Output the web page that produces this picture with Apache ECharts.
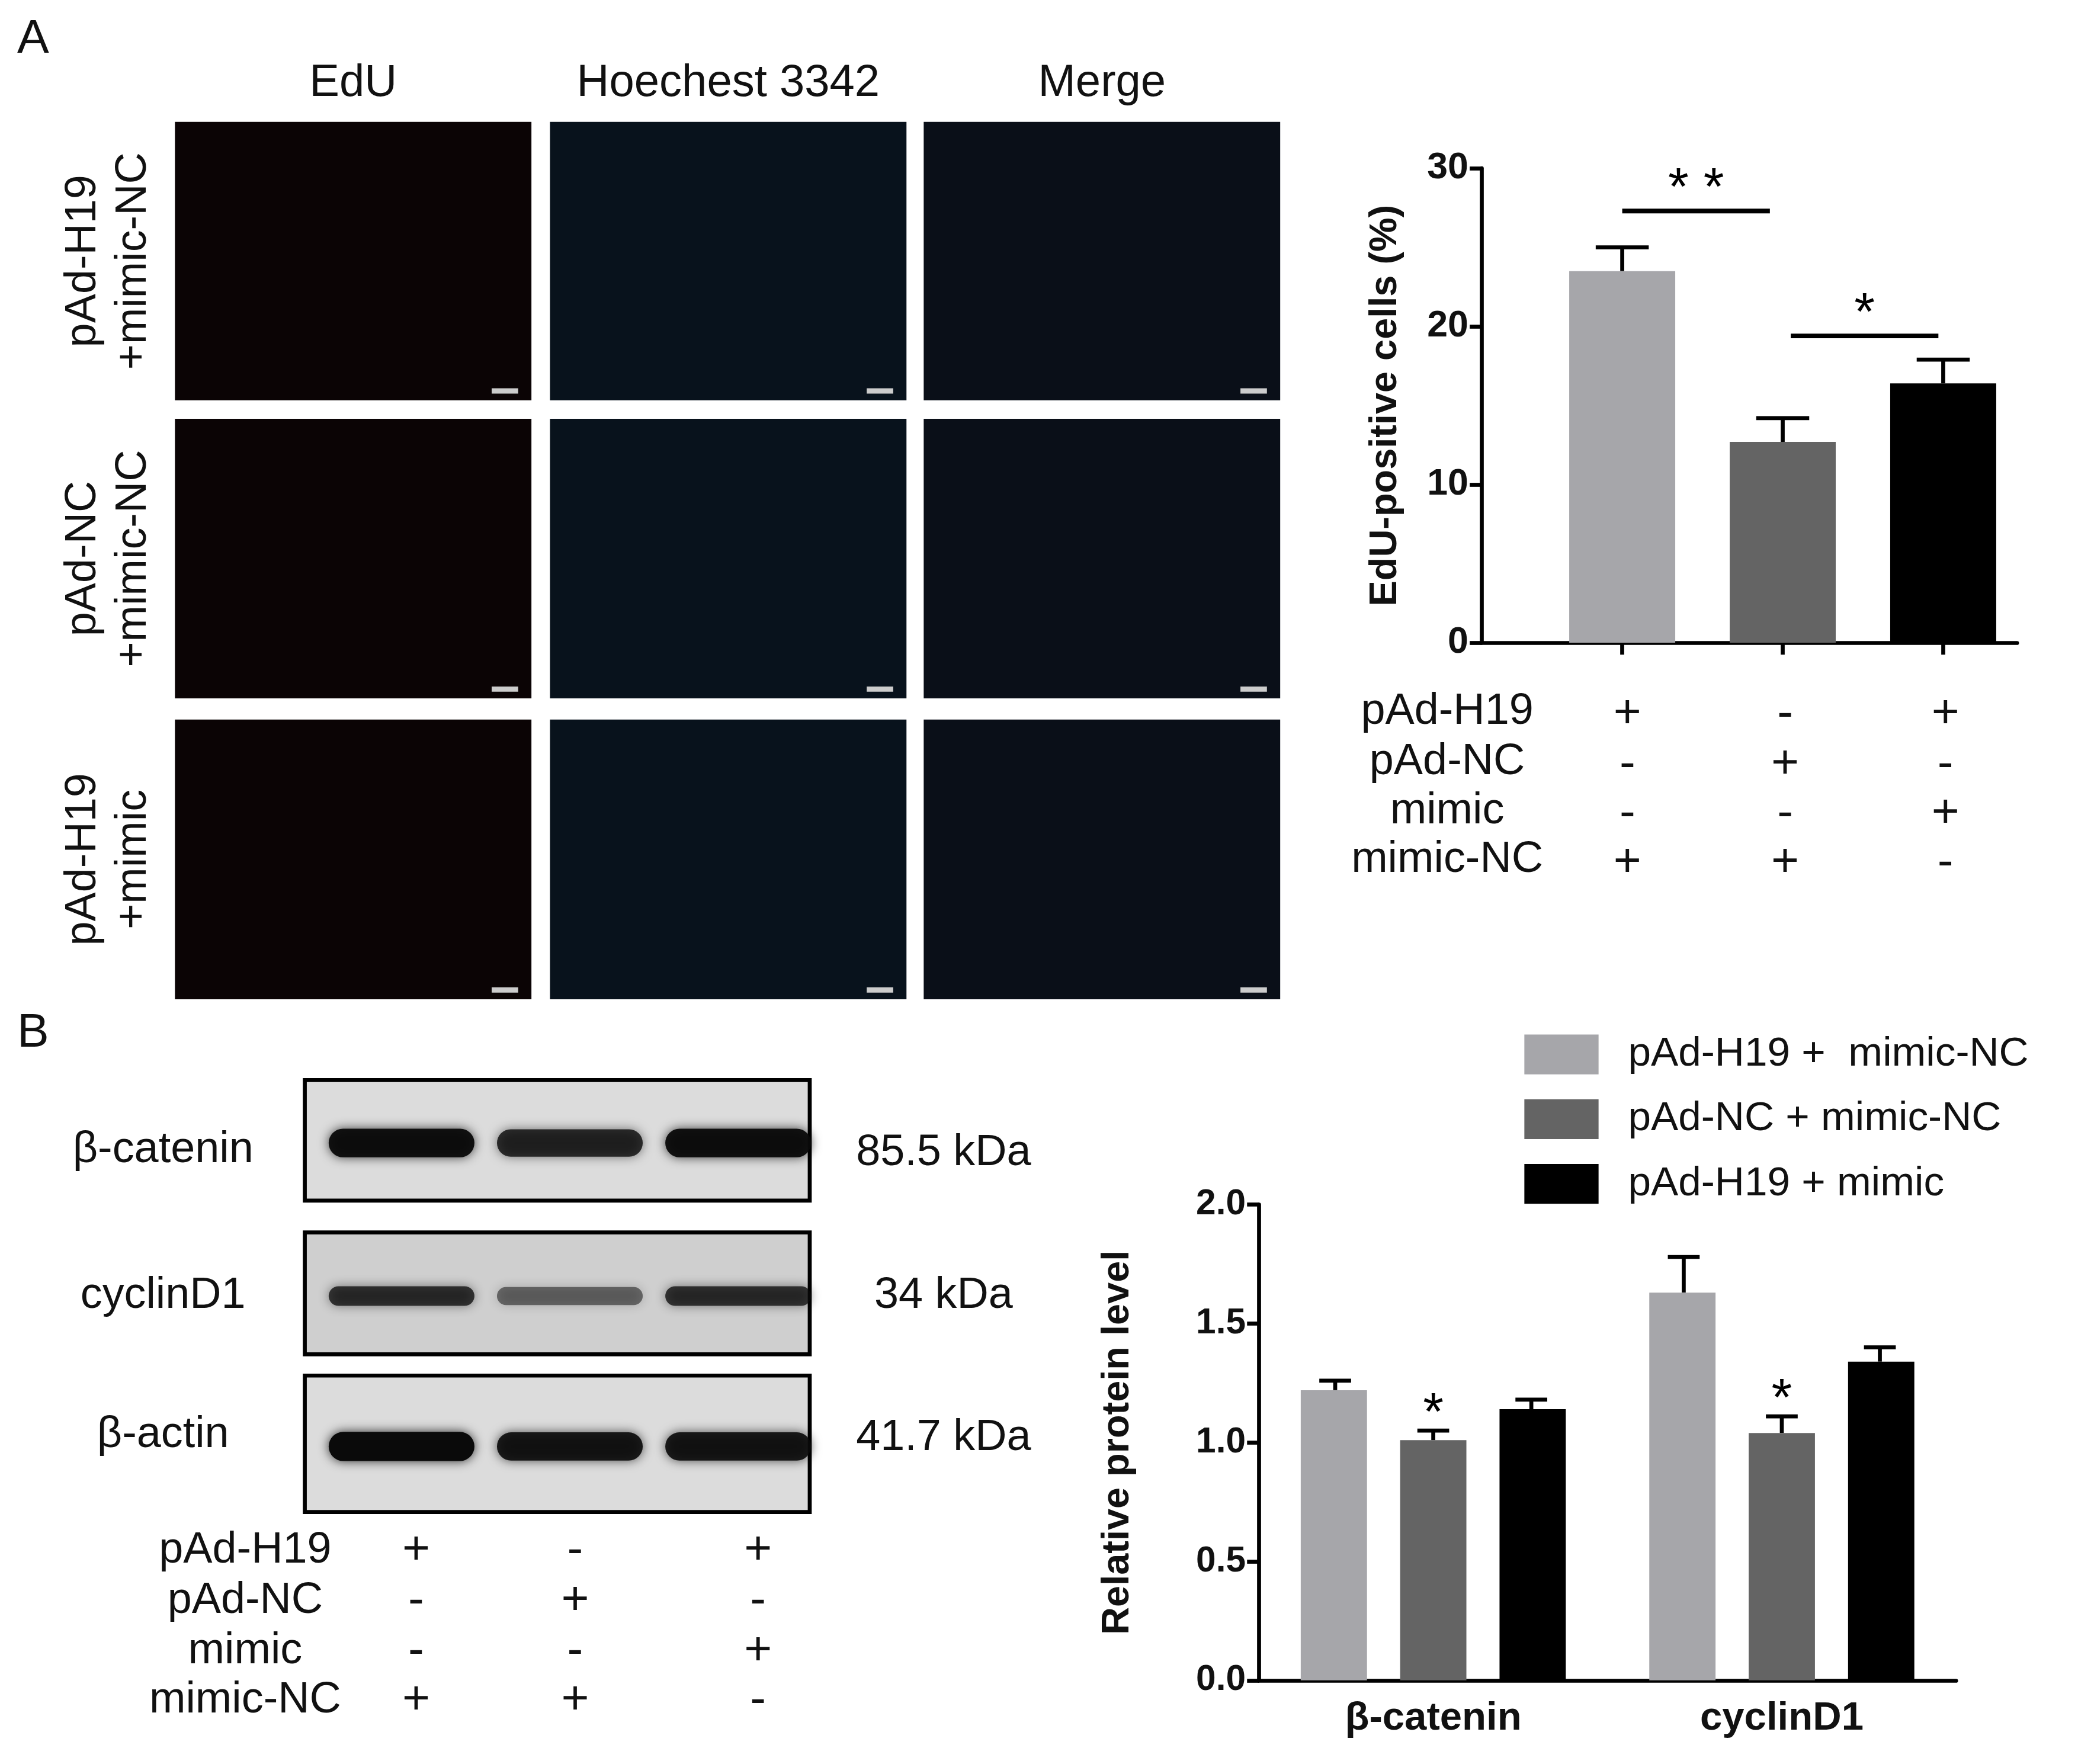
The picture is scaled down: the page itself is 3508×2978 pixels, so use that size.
<!DOCTYPE html>
<html><head><meta charset="utf-8">
<script src="https://cdn.jsdelivr.net/npm/echarts@6/dist/echarts.min.js"></script>
<style>html,body{margin:0;padding:0;background:#fff}#c{width:3508px;height:2978px}</style>
</head><body><div id="c"></div>
<script>
const S = 3508/1568;
const s = v => v*S;
const FONT = 'Liberation Sans, Arial, sans-serif';

// ---- data ----
const edu_groups = ['pAd-H19 +mimic-NC','pAd-NC +mimic-NC','pAd-H19 +mimic'];
const edu_values = [23.5, 12.7, 16.4];
const edu_errors = [25.0, 14.2, 17.9];
const edu_colors = ['#a6a6aa','#646464','#000000'];
const edu_sig = [[0, 0.92, 27.3, '* *'], [1.05, 1.97, 19.4, '*']];
const table_rows = ['pAd-H19','pAd-NC','mimic','mimic-NC'];
const table_signs = [['+','-','+'],['-','+','-'],['-','-','+'],['+','+','-']];

const prot_categories = ['β-catenin','cyclinD1'];
const prot_series = ['pAd-H19 +  mimic-NC','pAd-NC + mimic-NC','pAd-H19 + mimic'];
const prot_values = [[1.22,1.63],[1.01,1.04],[1.14,1.34]];
const prot_errors = [[1.26,1.78],[1.05,1.11],[1.18,1.40]];
const prot_star = [['',''],['*','*'],['','']];
const blot_labels = ['β-catenin','cyclinD1','β-actin'];
const blot_kda = ['85.5 kDa','34 kDa','41.7 kDa'];
const blot_intensity = [[0.95,0.8,0.95],[0.75,0.5,0.75],[1,0.9,0.9]];

const panel_titles = ['EdU','Hoechest 3342','Merge'];
const row_labels = ['pAd-H19\n+mimic-NC','pAd-NC\n+mimic-NC','pAd-H19\n+mimic'];

// ---- graphics ----
const g = [];
const txt = (x,y,t,o={}) => g.push({type:'text',x:s(x),y:s(y),rotation:o.rot||0,z:10,
  style:{text:t,font:`${o.bold?'bold ':''}${s(o.size||30)}px ${FONT}`,fill:'#111',
  textAlign:o.align||'center',textVerticalAlign:'middle',lineHeight:s(o.lh||(o.size||30)*1.1)}});
txt(25,30,'A',{size:36}); txt(25,780,'B',{size:36});
const colX=[132,415,697], colW=[269,269,269], rowY=[92,316,543], rowH=[210,211,211];
panel_titles.forEach((t,i)=>txt(colX[i]+colW[i]/2,63,t,{size:34}));
row_labels.forEach((t,i)=>txt(82,rowY[i]+rowH[i]/2,t,{size:33,rot:Math.PI/2,lh:38}));
const pcol=['#0b0405','#08121c','#0a0f18'];
for(let r=0;r<3;r++)for(let c=0;c<3;c++){
  g.push({type:'rect',shape:{x:s(colX[c]),y:s(rowY[r]),width:s(colW[c]),height:s(rowH[r])},style:{fill:pcol[c]}});
  g.push({type:'rect',shape:{x:s(colX[c]+colW[c]-30),y:s(rowY[r]+rowH[r]-9),width:s(20),height:s(4)},style:{fill:'#ccc'}});
}
const boxY=[815,930,1038], boxH=[91,92,103], lanes=[303,430,557];
blot_labels.forEach((l,i)=>{
  g.push({type:'rect',shape:{x:s(230),y:s(boxY[i]),width:s(381),height:s(boxH[i])},style:{fill:i==1?'#cfcfcf':'#dcdcdc',stroke:'#000',lineWidth:s(3)}});
  lanes.forEach((x,j)=>{
    const a=blot_intensity[i][j], h=(i==1?16:22)*(0.7+0.3*a), w=110;
    g.push({type:'rect',z:5,shape:{x:s(x-w/2),y:s(boxY[i]+boxH[i]/2+2-h/2),width:s(w),height:s(h),r:s(h/2)},
      style:{fill:`rgba(10,10,10,${a})`,shadowBlur:s(8),shadowColor:`rgba(0,0,0,${a*0.8})`}});
  });
  txt(123,[868,978,1083][i],l,{size:33});
  txt(712,[870,978,1085][i],blot_kda[i],{size:33});
});
table_rows.forEach((l,i)=>{
  txt(1092,[537,575,612,649][i],l,{size:33});
  txt(185,[1170,1208,1246,1283][i],l,{size:33});
  table_signs[i].forEach((sg,j)=>{
    txt([1228,1347,1468][j],[539,577,614,651][i],sg,{size:36});
    txt([314,434,572][j],[1170,1208,1246,1283][i],sg,{size:36});
  });
});

const series=[];
series.push({type:'bar',xAxisIndex:0,yAxisIndex:0,barWidth:s(80),silent:true,
  data:edu_values.map((v,i)=>({value:[i,v],itemStyle:{color:edu_colors[i]}}))});
series.push({type:'custom',xAxisIndex:0,yAxisIndex:0,silent:true,z:1,
  data:edu_values.map((v,i)=>[i,v,edu_errors[i]]),
  renderItem:(p,api)=>{const t=api.coord([api.value(0),api.value(2)]),b=api.coord([api.value(0),api.value(1)]);
    return {type:'group',children:[
      {type:'line',shape:{x1:t[0],y1:b[1],x2:t[0],y2:t[1]},style:{stroke:'#000',lineWidth:s(3)}},
      {type:'line',shape:{x1:t[0]-s(20),y1:t[1],x2:t[0]+s(20),y2:t[1]},style:{stroke:'#000',lineWidth:s(3)}}]};}});
series.push({type:'custom',xAxisIndex:0,yAxisIndex:0,silent:true,
  data:edu_sig.map(d=>[d[0],d[1],d[2]]),
  renderItem:(p,api)=>{const a=api.coord([api.value(0),api.value(2)]),b=api.coord([api.value(1),api.value(2)]);
    return {type:'group',children:[
      {type:'line',shape:{x1:a[0],y1:a[1],x2:b[0],y2:b[1]},style:{stroke:'#000',lineWidth:s(3.5)}},
      {type:'text',x:(a[0]+b[0])/2,y:a[1]+s(4),style:{text:edu_sig[p.dataIndex][3],font:`${s(40)}px ${FONT}`,fill:'#000',textAlign:'center',textVerticalAlign:'bottom'}}]};}});
prot_series.forEach((n,k)=>{
  series.push({type:'bar',name:n,xAxisIndex:1,yAxisIndex:1,barWidth:s(50),barGap:'50%',silent:true,
    itemStyle:{color:edu_colors[k]},data:prot_values[k]});
});
prot_series.forEach((n,k)=>{
  const off=(k-1)*74;
  series.push({type:'custom',xAxisIndex:1,yAxisIndex:1,silent:true,
    data:prot_values[k].map((v,i)=>[i,v,prot_errors[k][i]]),
    renderItem:(p,api)=>{const t=api.coord([api.value(0),api.value(2)]),b=api.coord([api.value(0),api.value(1)]);
      const x=t[0]+s(off);
      return {type:'group',children:[
        {type:'line',shape:{x1:x,y1:b[1],x2:x,y2:t[1]},style:{stroke:'#000',lineWidth:s(3)}},
        {type:'line',shape:{x1:x-s(12),y1:t[1],x2:x+s(12),y2:t[1]},style:{stroke:'#000',lineWidth:s(3)}},
        {type:'text',x:x,y:t[1]+s(8),style:{text:prot_star[k][p.dataIndex],font:`${s(40)}px ${FONT}`,fill:'#000',textAlign:'center',textVerticalAlign:'bottom'}}]};}});
});

const axLine={lineStyle:{color:'#000',width:s(3)}};
const axTick={length:s(9),lineStyle:{color:'#000',width:s(3)}};
const option={
  animation:false,backgroundColor:'#fff',
  graphic:g,
  legend:{orient:'vertical',left:s(1148),top:s(778),itemWidth:s(56),itemHeight:s(30),itemGap:s(18),
    icon:'rect',data:prot_series,textStyle:{fontFamily:FONT,fontSize:s(31),color:'#111',padding:[0,0,0,s(20)]},selectedMode:false},
  grid:[
    {left:s(1118),top:s(127),width:s(404),height:s(358)},
    {left:s(950),top:s(909),width:s(526),height:s(359)}],
  xAxis:[
    {type:'value',gridIndex:0,min:-0.876,max:2.46,splitLine:{show:false},axisLine:{...axLine,onZero:false},
      axisTick:{...axTick,customValues:[0,1,2]},axisLabel:{show:false}},
    {type:'category',gridIndex:1,data:prot_categories,axisLine:axLine,axisTick:{...axTick,alignWithLabel:true},
      axisLabel:{fontFamily:FONT,fontWeight:'bold',fontSize:s(30),color:'#111',margin:s(14)}}],
  yAxis:[
    {type:'value',gridIndex:0,min:0,max:30,interval:10,splitLine:{show:false},axisLine:{show:true,onZero:false,...axLine},axisTick:{show:true,...axTick},
      axisLabel:{fontFamily:FONT,fontWeight:'bold',fontSize:s(28),color:'#111',margin:s(10)},
      name:'EdU-positive cells (%)',nameLocation:'middle',nameGap:s(58),nameTextStyle:{fontFamily:FONT,fontWeight:'bold',fontSize:s(29),color:'#111'}},
    {type:'value',gridIndex:1,min:0,max:2,interval:0.5,splitLine:{show:false},axisLine:{show:true,onZero:false,...axLine},axisTick:{show:true,...axTick},
      axisLabel:{fontFamily:FONT,fontWeight:'bold',fontSize:s(27),color:'#111',margin:s(10),formatter:v=>v.toFixed(1)},
      name:'Relative protein level',nameLocation:'middle',nameGap:s(92),nameTextStyle:{fontFamily:FONT,fontWeight:'bold',fontSize:s(29),color:'#111'}}],
  series
};
echarts.init(document.getElementById('c')).setOption(option);
</script></body></html>
